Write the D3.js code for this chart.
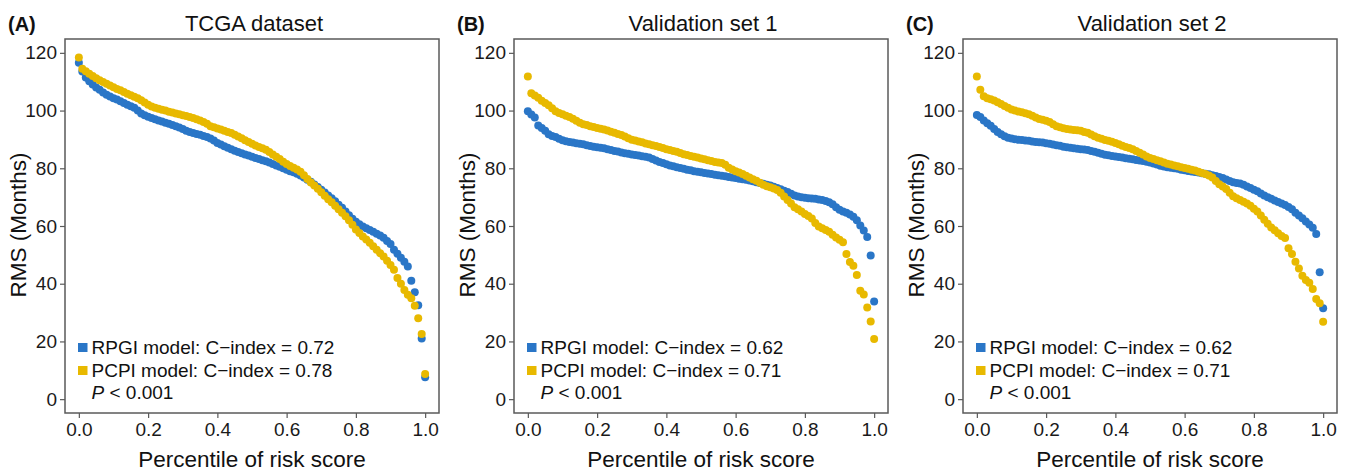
<!DOCTYPE html>
<html>
<head>
<meta charset="utf-8">
<script src="https://cdn.jsdelivr.net/npm/d3@7"></script>
<style>
  body { margin: 0; background: #fff; }
  svg { display: block; font-family: "Liberation Sans", Arial, sans-serif; }
</style>
</head>
<body>
<div id="chart"></div>
<script>
const panelLetters = ['(A)', '(B)', '(C)']
const panelTitles  = ['TCGA dataset', 'Validation set 1', 'Validation set 2']
const rpgiCIndex   = ['0.72', '0.62', '0.62']
const pcpiCIndex   = ['0.78', '0.71', '0.71']
const pValueText   = '< 0.001'
const xTicks       = [0, 0.2, 0.4, 0.6, 0.8, 1.0]
const yTicks       = [0, 20, 40, 60, 80, 100, 120]

// RMS (months) per percentile of risk score (0.00 .. 1.00 by 0.01)
const tcgaRpgi = [
  116.6, 113.5, 111.5, 110.2, 109.0, 108.0, 107.2, 106.3, 105.5, 104.9,
  104.3, 103.8, 103.2, 102.6, 102.0, 101.5, 101.0, 100.0, 99.0, 98.4,
  97.9, 97.4, 97.0, 96.6, 96.2, 95.8, 95.4, 95.0, 94.6, 94.1,
  93.6, 93.0, 92.6, 92.2, 91.9, 91.6, 91.2, 90.8, 90.3, 89.6,
  88.8, 88.2, 87.6, 87.1, 86.6, 86.1, 85.6, 85.2, 84.8, 84.4,
  84.0, 83.6, 83.2, 82.8, 82.4, 82.0, 81.5, 81.0, 80.5, 80.0,
  79.5, 79.0, 78.6, 78.1, 77.5, 76.8, 76.0, 75.3, 74.4, 73.5,
  72.6, 71.6, 70.6, 69.6, 68.6, 67.4, 66.3, 65.0, 63.7, 62.5,
  61.5, 60.6, 59.8, 59.2, 58.6, 58.0, 57.3, 56.7, 55.9, 54.8,
  53.8, 51.8, 50.4, 49.0, 47.6, 46.0, 41.0, 37.0, 32.5, 21.0,
  7.6
]
const tcgaPcpi = [
  118.4, 114.5, 113.6, 112.8, 112.0, 111.2, 110.5, 109.9, 109.3, 108.7,
  108.1, 107.5, 107.0, 106.4, 105.8, 105.3, 104.8, 104.3, 103.6, 102.8,
  102.0, 101.4, 101.0, 100.6, 100.3, 100.0, 99.6, 99.3, 99.0, 98.7,
  98.4, 98.1, 97.8, 97.4, 97.0, 96.6, 96.0, 95.4, 94.6, 94.2,
  93.8, 93.4, 93.0, 92.6, 92.2, 91.6, 91.0, 90.4, 89.7, 89.1,
  88.5, 87.9, 87.4, 86.9, 86.4, 85.6, 84.8, 84.0, 83.2, 82.3,
  81.5, 80.8, 80.2, 79.6, 78.8, 77.6, 76.3, 75.1, 74.0, 72.9,
  71.7, 70.5, 69.3, 68.2, 67.0, 65.8, 64.6, 63.4, 62.0, 60.4,
  58.8, 57.6, 56.4, 55.3, 54.2, 53.0, 51.8, 50.6, 49.4, 48.0,
  46.5, 44.8, 42.0, 40.0, 37.8, 36.2, 35.0, 32.4, 28.0, 22.6,
  8.7
]
const val1Rpgi = [
  99.8, 98.6, 97.6, 94.8, 94.0, 93.0, 91.8, 91.2, 90.8, 90.2,
  89.7, 89.4, 89.1, 88.9, 88.7, 88.5, 88.3, 88.0, 87.7, 87.5,
  87.3, 87.1, 86.9, 86.6, 86.3, 86.0, 85.8, 85.5, 85.2, 85.0,
  84.8, 84.6, 84.4, 84.2, 84.0, 83.7, 83.2, 82.7, 82.2, 81.8,
  81.4, 81.0, 80.7, 80.4, 80.1, 79.8, 79.5, 79.3, 79.0, 78.8,
  78.6, 78.4, 78.2, 78.0, 77.8, 77.6, 77.4, 77.2, 77.0, 76.8,
  76.6, 76.4, 76.2, 76.0, 75.8, 75.5, 75.2, 74.9, 74.6, 74.3,
  74.0, 73.6, 73.2, 72.7, 72.2, 71.8, 71.2, 70.6, 70.2, 70.0,
  69.8, 69.6, 69.5, 69.4, 69.2, 69.0, 68.7, 68.2, 67.5, 66.5,
  65.6, 65.0, 64.6, 64.0, 63.2, 62.0, 60.2, 58.4, 56.2, 49.8,
  33.8
]
const val1Pcpi = [
  111.8, 106.0, 105.2, 104.4, 103.4, 102.6, 101.8, 100.8, 99.8, 99.2,
  98.7, 98.2, 97.8, 97.2, 96.5, 95.8, 95.3, 95.0, 94.6, 94.3,
  94.0, 93.7, 93.4, 93.1, 92.7, 92.3, 91.9, 91.5, 91.0, 90.4,
  89.9, 89.6, 89.3, 89.0, 88.6, 88.3, 88.0, 87.7, 87.4, 87.0,
  86.6, 86.3, 86.0, 85.7, 85.3, 84.9, 84.6, 84.3, 84.0, 83.7,
  83.4, 83.1, 82.8, 82.5, 82.2, 82.0, 81.8, 81.2, 80.2, 79.6,
  79.0, 78.5, 78.0, 77.4, 76.8, 76.2, 75.7, 75.0, 74.3, 73.8,
  73.4, 73.0, 72.5, 71.5, 70.2, 69.0, 67.8, 66.5, 65.8, 65.0,
  64.2, 63.5, 62.6, 61.0, 59.8, 59.2, 58.6, 58.0, 57.0, 56.0,
  55.2, 54.4, 50.3, 47.5, 46.2, 43.0, 37.6, 36.3, 31.8, 26.9,
  20.8
]
const val2Rpgi = [
  98.5, 97.8, 96.6, 95.6, 94.7, 93.6, 92.6, 91.8, 91.1, 90.6,
  90.3, 90.1, 89.9, 89.8, 89.6, 89.5, 89.3, 89.1, 89.0, 88.9,
  88.7, 88.5, 88.2, 88.0, 87.8, 87.5, 87.3, 87.1, 86.9, 86.8,
  86.6, 86.5, 86.3, 86.0, 85.7, 85.4, 85.0, 84.7, 84.5, 84.3,
  84.1, 83.9, 83.7, 83.5, 83.3, 83.1, 82.9, 82.7, 82.5, 82.3,
  82.0, 81.7, 81.3, 80.9, 80.6, 80.4, 80.2, 80.0, 79.8, 79.5,
  79.3, 79.1, 78.9, 78.7, 78.5, 78.3, 78.1, 77.9, 77.6, 77.3,
  77.0, 76.6, 76.1, 75.6, 75.2, 74.9, 74.7, 74.3, 73.7, 73.2,
  72.6, 72.0, 71.3, 70.6, 70.0, 69.4, 68.8, 68.3, 67.8, 67.3,
  66.6, 65.8, 64.6, 63.6, 62.7, 61.6, 60.5, 59.4, 57.2, 44.0,
  31.5
]
const val2Pcpi = [
  111.8, 107.2, 105.0, 104.3, 103.9, 103.5, 102.9, 102.3, 101.6, 101.0,
  100.4, 100.0, 99.7, 99.4, 99.1, 98.7, 98.2, 97.6, 97.1, 96.8,
  96.5, 96.0, 95.3, 94.6, 94.2, 93.9, 93.6, 93.4, 93.3, 93.2,
  93.0, 92.6, 92.3, 91.7, 91.1, 90.6, 90.2, 89.8, 89.5, 89.2,
  88.8, 88.3, 87.8, 87.4, 87.0, 86.6, 86.0, 85.4, 84.8, 84.1,
  83.6, 83.2, 82.8, 82.4, 82.0, 81.6, 81.3, 81.0, 80.7, 80.4,
  80.1, 79.8, 79.5, 79.2, 78.8, 78.4, 78.0, 77.5, 76.8, 75.6,
  74.5, 73.7, 72.8, 71.5, 70.3, 69.6, 69.0, 68.4, 67.8, 67.0,
  66.0, 65.0, 63.6, 62.2, 60.8, 59.5, 58.5, 57.5, 56.5, 55.8,
  52.3, 50.3, 47.6, 45.3, 42.8, 41.3, 40.3, 38.2, 34.7, 33.2,
  26.8
]

const rpgiSeries = [tcgaRpgi, val1Rpgi, val2Rpgi]
const pcpiSeries = [tcgaPcpi, val1Pcpi, val2Pcpi]

const width      = 1349,
      height     = 473,
      boxLefts   = [65, 514, 963],
      boxTop     = 39,
      boxSize    = 374,
      blue       = '#2a76c7',
      yellow     = '#e8b900',
      frameColor = '#5a5a5a',
      dotR       = 4

const svg = d3.select('#chart')
  .append('svg')
  .attr('width', width)
  .attr('height', height)

svg.append('rect')
  .attr('width', width)
  .attr('height', height)
  .attr('fill', '#fff')

const toPoints = values => values.map((v, i) => ({ p: i / (values.length - 1), rms: v }))

panelTitles.forEach((title, k) => {
  const left = boxLefts[k]
  const g = svg.append('g')
    .attr('transform', `translate(${left}, ${boxTop})`)

  // R style 4% padding on both axes
  const x = d3.scaleLinear().domain([-0.04, 1.04]).range([0, boxSize])
  const y = d3.scaleLinear().domain([-4.8, 124.8]).range([boxSize, 0])

  // points: blue first, yellow drawn over it
  g.append('g')
    .selectAll('circle')
    .data(toPoints(rpgiSeries[k]))
    .join('circle')
      .attr('cx', d => x(d.p))
      .attr('cy', d => y(d.rms))
      .attr('r', dotR)
      .attr('fill', blue)

  g.append('g')
    .selectAll('circle')
    .data(toPoints(pcpiSeries[k]))
    .join('circle')
      .attr('cx', d => x(d.p))
      .attr('cy', d => y(d.rms))
      .attr('r', dotR)
      .attr('fill', yellow)

  // axes
  const axisY = g.append('g')
    .call(d3.axisLeft(y).tickValues(yTicks).tickSize(5).tickPadding(3).tickFormat(d3.format('d')))
  const axisX = g.append('g')
    .attr('transform', `translate(0, ${boxSize})`)
    .call(d3.axisBottom(x).tickValues(xTicks).tickSize(5).tickPadding(5).tickFormat(d3.format('.1f')))

  ;[axisY, axisX].forEach(a => {
    a.select('.domain').remove()
    a.selectAll('line').attr('stroke', frameColor).attr('stroke-width', 1.2)
    a.selectAll('text')
      .attr('font-family', '"Liberation Sans", Arial, sans-serif')
      .attr('font-size', 19)
      .attr('fill', '#1a1a1a')
  })

  g.append('rect')
    .attr('width', boxSize)
    .attr('height', boxSize)
    .attr('fill', 'none')
    .attr('stroke', frameColor)
    .attr('stroke-width', 1.5)

  // titles
  g.append('text')
    .attr('x', boxSize / 2 + 2)
    .attr('y', -8)
    .attr('text-anchor', 'middle')
    .attr('font-size', 22)
    .attr('fill', '#111')
    .text(title)

  g.append('text')
    .attr('x', -57)
    .attr('y', -8)
    .attr('font-size', 20)
    .attr('font-weight', 'bold')
    .attr('fill', '#111')
    .text(panelLetters[k])

  g.append('text')
    .attr('transform', `translate(-39, ${boxSize / 2 - 1}) rotate(-90)`)
    .attr('text-anchor', 'middle')
    .attr('font-size', 22.5)
    .attr('fill', '#111')
    .text('RMS (Months)')

  g.append('text')
    .attr('x', boxSize / 2)
    .attr('y', boxSize + 54)
    .attr('text-anchor', 'middle')
    .attr('font-size', 22.5)
    .attr('fill', '#111')
    .text('Percentile of risk score')

  // legend
  const legend = g.append('g')
    .attr('font-size', 19)
    .attr('fill', '#111')
  const rows = [
    { color: blue, label: `RPGI model: C\u2212index = ${rpgiCIndex[k]}`, base: boxSize - 59 },
    { color: yellow, label: `PCPI model: C\u2212index = ${pcpiCIndex[k]}`, base: boxSize - 36 }
  ]
  rows.forEach(r => {
    legend.append('rect')
      .attr('x', 13)
      .attr('y', r.base - 11)
      .attr('width', 9.5)
      .attr('height', 9)
      .attr('fill', r.color)
    legend.append('text')
      .attr('x', 26.5)
      .attr('y', r.base)
      .text(r.label)
  })
  const pText = legend.append('text')
    .attr('x', 26.5)
    .attr('y', boxSize - 14)
  pText.append('tspan').attr('font-style', 'italic').text('P')
  pText.append('tspan').text(' ' + pValueText)
})
</script>
</body>
</html>
